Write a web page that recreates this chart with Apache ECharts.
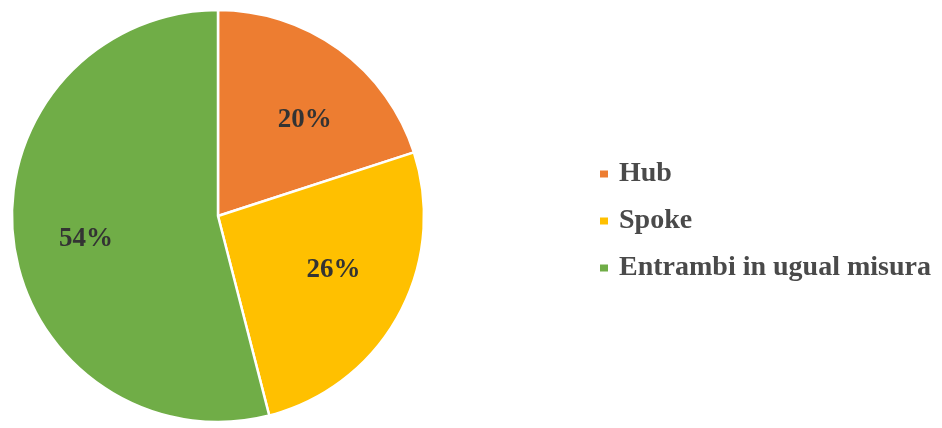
<!DOCTYPE html>
<html>
<head>
<meta charset="utf-8">
<script src="https://cdn.jsdelivr.net/npm/echarts@6/dist/echarts.min.js"></script>
<style>
  html, body { margin: 0; padding: 0; background: #ffffff; }
  #chart { width: 942px; height: 428px; }
</style>
</head>
<body>
<div id="chart"></div>
<script>
// Share of answers per category
const categories = ['Hub', 'Spoke', 'Entrambi in ugual misura'];
const shares = [20, 26, 54];
const colors = ['#ED7D31', '#FFC000', '#70AD47'];

const pieData = categories.map((name, i) => ({
  name: name,
  value: shares[i],
  itemStyle: { color: colors[i] }
}));

// small nudges so the percentages sit where they read best inside each slice
const labelNudge = [[8, 12], [-2, -11], [1, 6]];

const serif = '"Liberation Serif", "Times New Roman", serif';
const center = [218, 216];

const chart = echarts.init(document.getElementById('chart'), null, { renderer: 'canvas' });
chart.setOption({
  backgroundColor: '#ffffff',
  animation: false,
  legend: {
    orient: 'vertical',
    left: 598,
    top: 160,
    padding: 0,
    itemWidth: 10,
    itemHeight: 9,
    itemGap: 19,
    icon: 'rect',
    selectedMode: false,
    data: categories,
    textStyle: {
      fontFamily: serif,
      fontWeight: 'bold',
      fontSize: 28,
      lineHeight: 28,
      color: '#4a4a4a',
      padding: [0, 0, 0, 5]
    }
  },
  series: [
    {
      // the filled slices
      type: 'pie',
      center: center,
      radius: [0, 206],
      startAngle: 90,
      clockwise: true,
      silent: true,
      itemStyle: { borderColor: '#ffffff', borderWidth: 2.5 },
      label: { show: false },
      labelLine: { show: false },
      data: pieData
    },
    {
      // transparent ring that places the percentage labels further out
      type: 'pie',
      center: center,
      radius: [62, 200],
      startAngle: 90,
      clockwise: true,
      silent: true,
      legendHoverLink: false,
      itemStyle: { color: 'rgba(0,0,0,0)', borderWidth: 0 },
      label: {
        show: true,
        position: 'inside',
        formatter: '{c}%',
        fontFamily: serif,
        fontWeight: 'bold',
        fontSize: 27,
        color: '#333333'
      },
      labelLine: { show: false },
      data: categories.map((name, i) => ({
        name: name + ' ',
        value: shares[i],
        label: { offset: labelNudge[i] }
      }))
    }
  ]
});
</script>
</body>
</html>
